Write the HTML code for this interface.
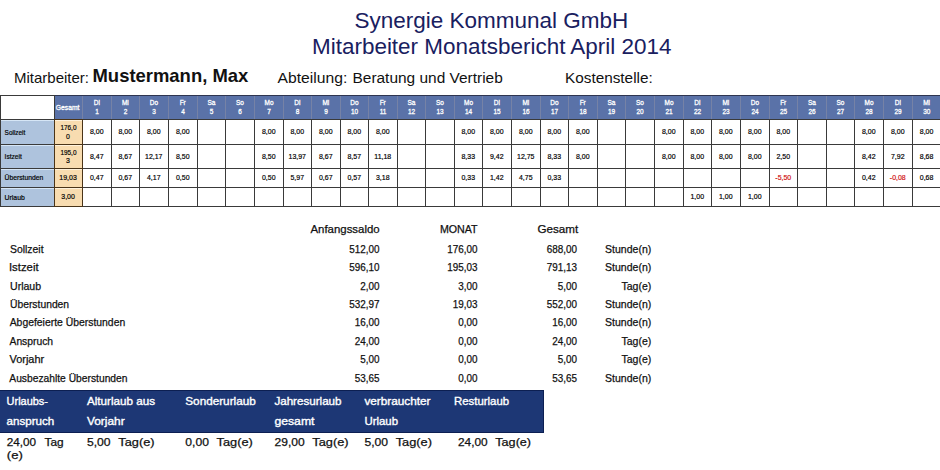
<!DOCTYPE html><html><head><meta charset="utf-8"><style>
html,body{margin:0;padding:0;background:#fff;width:940px;height:470px;overflow:hidden;position:relative}
div{position:absolute}
svg{position:absolute;left:0;top:0}
text{font-family:"Liberation Sans",sans-serif;white-space:pre}
</style></head><body>
<div style="left:0px;top:95px;width:940px;height:112px;background:#3a3a3a"></div>
<div style="left:55px;top:96px;width:885px;height:23px;background:#7682a6"></div>
<div style="left:55px;top:95px;width:885px;height:1px;background:#2e3550"></div>
<div style="left:1px;top:96px;width:53px;height:23px;background:#fff"></div>
<div style="left:55px;top:96px;width:27px;height:23px;background:#5a72a8"></div>
<div style="left:83px;top:96px;width:28px;height:23px;background:#5a72a8"></div>
<div style="left:112px;top:96px;width:27px;height:23px;background:#5a72a8"></div>
<div style="left:140px;top:96px;width:28px;height:23px;background:#5a72a8"></div>
<div style="left:169px;top:96px;width:28px;height:23px;background:#5a72a8"></div>
<div style="left:198px;top:96px;width:27px;height:23px;background:#5a72a8"></div>
<div style="left:226px;top:96px;width:28px;height:23px;background:#5a72a8"></div>
<div style="left:255px;top:96px;width:28px;height:23px;background:#5a72a8"></div>
<div style="left:284px;top:96px;width:27px;height:23px;background:#5a72a8"></div>
<div style="left:312px;top:96px;width:28px;height:23px;background:#5a72a8"></div>
<div style="left:341px;top:96px;width:27px;height:23px;background:#5a72a8"></div>
<div style="left:369px;top:96px;width:28px;height:23px;background:#5a72a8"></div>
<div style="left:398px;top:96px;width:27px;height:23px;background:#5a72a8"></div>
<div style="left:426px;top:96px;width:28px;height:23px;background:#5a72a8"></div>
<div style="left:455px;top:96px;width:27px;height:23px;background:#5a72a8"></div>
<div style="left:483px;top:96px;width:28px;height:23px;background:#5a72a8"></div>
<div style="left:512px;top:96px;width:28px;height:23px;background:#5a72a8"></div>
<div style="left:541px;top:96px;width:27px;height:23px;background:#5a72a8"></div>
<div style="left:569px;top:96px;width:28px;height:23px;background:#5a72a8"></div>
<div style="left:598px;top:96px;width:27px;height:23px;background:#5a72a8"></div>
<div style="left:626px;top:96px;width:28px;height:23px;background:#5a72a8"></div>
<div style="left:655px;top:96px;width:28px;height:23px;background:#5a72a8"></div>
<div style="left:684px;top:96px;width:27px;height:23px;background:#5a72a8"></div>
<div style="left:712px;top:96px;width:28px;height:23px;background:#5a72a8"></div>
<div style="left:741px;top:96px;width:28px;height:23px;background:#5a72a8"></div>
<div style="left:770px;top:96px;width:27px;height:23px;background:#5a72a8"></div>
<div style="left:798px;top:96px;width:28px;height:23px;background:#5a72a8"></div>
<div style="left:827px;top:96px;width:27px;height:23px;background:#5a72a8"></div>
<div style="left:855px;top:96px;width:28px;height:23px;background:#5a72a8"></div>
<div style="left:884px;top:96px;width:28px;height:23px;background:#5a72a8"></div>
<div style="left:913px;top:96px;width:27px;height:23px;background:#5a72a8"></div>
<div style="left:54px;top:119px;width:29px;height:88px;background:#4a3418"></div>
<div style="left:1px;top:120px;width:53px;height:24px;background:#aec3dd"></div>
<div style="left:1px;top:120px;width:53px;height:1px;background:#d6e6f6"></div>
<div style="left:55px;top:120px;width:27px;height:24px;background:#f8dcb0"></div>
<div style="left:55px;top:120px;width:27px;height:1px;background:#fff2dc"></div>
<div style="left:83px;top:120px;width:28px;height:24px;background:#fff"></div>
<div style="left:112px;top:120px;width:27px;height:24px;background:#fff"></div>
<div style="left:140px;top:120px;width:28px;height:24px;background:#fff"></div>
<div style="left:169px;top:120px;width:28px;height:24px;background:#fff"></div>
<div style="left:198px;top:120px;width:27px;height:24px;background:#fff"></div>
<div style="left:226px;top:120px;width:28px;height:24px;background:#fff"></div>
<div style="left:255px;top:120px;width:28px;height:24px;background:#fff"></div>
<div style="left:284px;top:120px;width:27px;height:24px;background:#fff"></div>
<div style="left:312px;top:120px;width:28px;height:24px;background:#fff"></div>
<div style="left:341px;top:120px;width:27px;height:24px;background:#fff"></div>
<div style="left:369px;top:120px;width:28px;height:24px;background:#fff"></div>
<div style="left:398px;top:120px;width:27px;height:24px;background:#fff"></div>
<div style="left:426px;top:120px;width:28px;height:24px;background:#fff"></div>
<div style="left:455px;top:120px;width:27px;height:24px;background:#fff"></div>
<div style="left:483px;top:120px;width:28px;height:24px;background:#fff"></div>
<div style="left:512px;top:120px;width:28px;height:24px;background:#fff"></div>
<div style="left:541px;top:120px;width:27px;height:24px;background:#fff"></div>
<div style="left:569px;top:120px;width:28px;height:24px;background:#fff"></div>
<div style="left:598px;top:120px;width:27px;height:24px;background:#fff"></div>
<div style="left:626px;top:120px;width:28px;height:24px;background:#fff"></div>
<div style="left:655px;top:120px;width:28px;height:24px;background:#fff"></div>
<div style="left:684px;top:120px;width:27px;height:24px;background:#fff"></div>
<div style="left:712px;top:120px;width:28px;height:24px;background:#fff"></div>
<div style="left:741px;top:120px;width:28px;height:24px;background:#fff"></div>
<div style="left:770px;top:120px;width:27px;height:24px;background:#fff"></div>
<div style="left:798px;top:120px;width:28px;height:24px;background:#fff"></div>
<div style="left:827px;top:120px;width:27px;height:24px;background:#fff"></div>
<div style="left:855px;top:120px;width:28px;height:24px;background:#fff"></div>
<div style="left:884px;top:120px;width:28px;height:24px;background:#fff"></div>
<div style="left:913px;top:120px;width:27px;height:24px;background:#fff"></div>
<div style="left:1px;top:145px;width:53px;height:23px;background:#aec3dd"></div>
<div style="left:1px;top:145px;width:53px;height:1px;background:#d6e6f6"></div>
<div style="left:55px;top:145px;width:27px;height:23px;background:#f8dcb0"></div>
<div style="left:55px;top:145px;width:27px;height:1px;background:#fff2dc"></div>
<div style="left:83px;top:145px;width:28px;height:23px;background:#fff"></div>
<div style="left:112px;top:145px;width:27px;height:23px;background:#fff"></div>
<div style="left:140px;top:145px;width:28px;height:23px;background:#fff"></div>
<div style="left:169px;top:145px;width:28px;height:23px;background:#fff"></div>
<div style="left:198px;top:145px;width:27px;height:23px;background:#fff"></div>
<div style="left:226px;top:145px;width:28px;height:23px;background:#fff"></div>
<div style="left:255px;top:145px;width:28px;height:23px;background:#fff"></div>
<div style="left:284px;top:145px;width:27px;height:23px;background:#fff"></div>
<div style="left:312px;top:145px;width:28px;height:23px;background:#fff"></div>
<div style="left:341px;top:145px;width:27px;height:23px;background:#fff"></div>
<div style="left:369px;top:145px;width:28px;height:23px;background:#fff"></div>
<div style="left:398px;top:145px;width:27px;height:23px;background:#fff"></div>
<div style="left:426px;top:145px;width:28px;height:23px;background:#fff"></div>
<div style="left:455px;top:145px;width:27px;height:23px;background:#fff"></div>
<div style="left:483px;top:145px;width:28px;height:23px;background:#fff"></div>
<div style="left:512px;top:145px;width:28px;height:23px;background:#fff"></div>
<div style="left:541px;top:145px;width:27px;height:23px;background:#fff"></div>
<div style="left:569px;top:145px;width:28px;height:23px;background:#fff"></div>
<div style="left:598px;top:145px;width:27px;height:23px;background:#fff"></div>
<div style="left:626px;top:145px;width:28px;height:23px;background:#fff"></div>
<div style="left:655px;top:145px;width:28px;height:23px;background:#fff"></div>
<div style="left:684px;top:145px;width:27px;height:23px;background:#fff"></div>
<div style="left:712px;top:145px;width:28px;height:23px;background:#fff"></div>
<div style="left:741px;top:145px;width:28px;height:23px;background:#fff"></div>
<div style="left:770px;top:145px;width:27px;height:23px;background:#fff"></div>
<div style="left:798px;top:145px;width:28px;height:23px;background:#fff"></div>
<div style="left:827px;top:145px;width:27px;height:23px;background:#fff"></div>
<div style="left:855px;top:145px;width:28px;height:23px;background:#fff"></div>
<div style="left:884px;top:145px;width:28px;height:23px;background:#fff"></div>
<div style="left:913px;top:145px;width:27px;height:23px;background:#fff"></div>
<div style="left:1px;top:169px;width:53px;height:18px;background:#aec3dd"></div>
<div style="left:1px;top:169px;width:53px;height:1px;background:#d6e6f6"></div>
<div style="left:55px;top:169px;width:27px;height:18px;background:#f8dcb0"></div>
<div style="left:55px;top:169px;width:27px;height:1px;background:#fff2dc"></div>
<div style="left:83px;top:169px;width:28px;height:18px;background:#fff"></div>
<div style="left:112px;top:169px;width:27px;height:18px;background:#fff"></div>
<div style="left:140px;top:169px;width:28px;height:18px;background:#fff"></div>
<div style="left:169px;top:169px;width:28px;height:18px;background:#fff"></div>
<div style="left:198px;top:169px;width:27px;height:18px;background:#fff"></div>
<div style="left:226px;top:169px;width:28px;height:18px;background:#fff"></div>
<div style="left:255px;top:169px;width:28px;height:18px;background:#fff"></div>
<div style="left:284px;top:169px;width:27px;height:18px;background:#fff"></div>
<div style="left:312px;top:169px;width:28px;height:18px;background:#fff"></div>
<div style="left:341px;top:169px;width:27px;height:18px;background:#fff"></div>
<div style="left:369px;top:169px;width:28px;height:18px;background:#fff"></div>
<div style="left:398px;top:169px;width:27px;height:18px;background:#fff"></div>
<div style="left:426px;top:169px;width:28px;height:18px;background:#fff"></div>
<div style="left:455px;top:169px;width:27px;height:18px;background:#fff"></div>
<div style="left:483px;top:169px;width:28px;height:18px;background:#fff"></div>
<div style="left:512px;top:169px;width:28px;height:18px;background:#fff"></div>
<div style="left:541px;top:169px;width:27px;height:18px;background:#fff"></div>
<div style="left:569px;top:169px;width:28px;height:18px;background:#fff"></div>
<div style="left:598px;top:169px;width:27px;height:18px;background:#fff"></div>
<div style="left:626px;top:169px;width:28px;height:18px;background:#fff"></div>
<div style="left:655px;top:169px;width:28px;height:18px;background:#fff"></div>
<div style="left:684px;top:169px;width:27px;height:18px;background:#fff"></div>
<div style="left:712px;top:169px;width:28px;height:18px;background:#fff"></div>
<div style="left:741px;top:169px;width:28px;height:18px;background:#fff"></div>
<div style="left:770px;top:169px;width:27px;height:18px;background:#fff"></div>
<div style="left:798px;top:169px;width:28px;height:18px;background:#fff"></div>
<div style="left:827px;top:169px;width:27px;height:18px;background:#fff"></div>
<div style="left:855px;top:169px;width:28px;height:18px;background:#fff"></div>
<div style="left:884px;top:169px;width:28px;height:18px;background:#fff"></div>
<div style="left:913px;top:169px;width:27px;height:18px;background:#fff"></div>
<div style="left:1px;top:188px;width:53px;height:18px;background:#aec3dd"></div>
<div style="left:1px;top:188px;width:53px;height:1px;background:#d6e6f6"></div>
<div style="left:55px;top:188px;width:27px;height:18px;background:#f8dcb0"></div>
<div style="left:55px;top:188px;width:27px;height:1px;background:#fff2dc"></div>
<div style="left:83px;top:188px;width:28px;height:18px;background:#fff"></div>
<div style="left:112px;top:188px;width:27px;height:18px;background:#fff"></div>
<div style="left:140px;top:188px;width:28px;height:18px;background:#fff"></div>
<div style="left:169px;top:188px;width:28px;height:18px;background:#fff"></div>
<div style="left:198px;top:188px;width:27px;height:18px;background:#fff"></div>
<div style="left:226px;top:188px;width:28px;height:18px;background:#fff"></div>
<div style="left:255px;top:188px;width:28px;height:18px;background:#fff"></div>
<div style="left:284px;top:188px;width:27px;height:18px;background:#fff"></div>
<div style="left:312px;top:188px;width:28px;height:18px;background:#fff"></div>
<div style="left:341px;top:188px;width:27px;height:18px;background:#fff"></div>
<div style="left:369px;top:188px;width:28px;height:18px;background:#fff"></div>
<div style="left:398px;top:188px;width:27px;height:18px;background:#fff"></div>
<div style="left:426px;top:188px;width:28px;height:18px;background:#fff"></div>
<div style="left:455px;top:188px;width:27px;height:18px;background:#fff"></div>
<div style="left:483px;top:188px;width:28px;height:18px;background:#fff"></div>
<div style="left:512px;top:188px;width:28px;height:18px;background:#fff"></div>
<div style="left:541px;top:188px;width:27px;height:18px;background:#fff"></div>
<div style="left:569px;top:188px;width:28px;height:18px;background:#fff"></div>
<div style="left:598px;top:188px;width:27px;height:18px;background:#fff"></div>
<div style="left:626px;top:188px;width:28px;height:18px;background:#fff"></div>
<div style="left:655px;top:188px;width:28px;height:18px;background:#fff"></div>
<div style="left:684px;top:188px;width:27px;height:18px;background:#fff"></div>
<div style="left:712px;top:188px;width:28px;height:18px;background:#fff"></div>
<div style="left:741px;top:188px;width:28px;height:18px;background:#fff"></div>
<div style="left:770px;top:188px;width:27px;height:18px;background:#fff"></div>
<div style="left:798px;top:188px;width:28px;height:18px;background:#fff"></div>
<div style="left:827px;top:188px;width:27px;height:18px;background:#fff"></div>
<div style="left:855px;top:188px;width:28px;height:18px;background:#fff"></div>
<div style="left:884px;top:188px;width:28px;height:18px;background:#fff"></div>
<div style="left:913px;top:188px;width:27px;height:18px;background:#fff"></div>
<div style="left:0px;top:389.5px;width:544px;height:43.0px;background:#1d3775"></div>
<div style="left:0px;top:389.5px;width:544px;height:1.5px;background:#0c1f52"></div>
<div style="left:0px;top:431.5px;width:544px;height:1.0px;background:#0c1f52"></div>
<div style="left:543px;top:389.5px;width:1px;height:43.0px;background:#0c1f52"></div>
<svg width="940" height="470">
<text x="354.50" y="27.60" font-size="22.5" fill="#19205f">Synergie Kommunal GmbH</text>
<text x="312.01" y="53.50" font-size="22.5" fill="#19205f" textLength="359.51" lengthAdjust="spacingAndGlyphs">Mitarbeiter Monatsbericht April 2014</text>
<text x="14.00" y="82.60" font-size="15" fill="#111">Mitarbeiter:</text>
<text x="92.50" y="81.60" font-size="18.5" fill="#111" textLength="155.79" lengthAdjust="spacingAndGlyphs" font-weight="bold">Mustermann, Max</text>
<text x="277.50" y="82.80" font-size="15.2" fill="#111" textLength="69.76" lengthAdjust="spacingAndGlyphs">Abteilung:</text>
<text x="352.50" y="82.80" font-size="15.4" fill="#111" textLength="150.27" lengthAdjust="spacingAndGlyphs">Beratung und Vertrieb</text>
<text x="564.99" y="82.80" font-size="15.2" fill="#111" textLength="87.74" lengthAdjust="spacingAndGlyphs">Kostenstelle:</text>
<text x="55.85" y="110.00" font-size="7.2" fill="#fff" textLength="23.50" lengthAdjust="spacingAndGlyphs" stroke="#fff" stroke-width="0.3">Gesamt</text>
<text x="93.76" y="105.00" font-size="7.2" fill="#fff" textLength="6.11" lengthAdjust="spacingAndGlyphs" stroke="#fff" stroke-width="0.3">Di</text>
<text x="95.20" y="114.00" font-size="7.2" fill="#fff" textLength="3.60" lengthAdjust="spacingAndGlyphs" stroke="#fff" stroke-width="0.3">1</text>
<text x="121.91" y="105.00" font-size="7.2" fill="#fff" textLength="6.83" lengthAdjust="spacingAndGlyphs" stroke="#fff" stroke-width="0.3">Mi</text>
<text x="123.70" y="114.00" font-size="7.2" fill="#fff" textLength="3.60" lengthAdjust="spacingAndGlyphs" stroke="#fff" stroke-width="0.3">2</text>
<text x="149.86" y="105.00" font-size="7.2" fill="#fff" textLength="8.27" lengthAdjust="spacingAndGlyphs" stroke="#fff" stroke-width="0.3">Do</text>
<text x="152.20" y="114.00" font-size="7.2" fill="#fff" textLength="3.60" lengthAdjust="spacingAndGlyphs" stroke="#fff" stroke-width="0.3">3</text>
<text x="179.67" y="105.00" font-size="7.2" fill="#fff" textLength="6.11" lengthAdjust="spacingAndGlyphs" stroke="#fff" stroke-width="0.3">Fr</text>
<text x="181.20" y="114.00" font-size="7.2" fill="#fff" textLength="3.60" lengthAdjust="spacingAndGlyphs" stroke="#fff" stroke-width="0.3">4</text>
<text x="207.54" y="105.00" font-size="7.2" fill="#fff" textLength="7.91" lengthAdjust="spacingAndGlyphs" stroke="#fff" stroke-width="0.3">Sa</text>
<text x="209.70" y="114.00" font-size="7.2" fill="#fff" textLength="3.60" lengthAdjust="spacingAndGlyphs" stroke="#fff" stroke-width="0.3">5</text>
<text x="236.04" y="105.00" font-size="7.2" fill="#fff" textLength="7.91" lengthAdjust="spacingAndGlyphs" stroke="#fff" stroke-width="0.3">So</text>
<text x="238.20" y="114.00" font-size="7.2" fill="#fff" textLength="3.60" lengthAdjust="spacingAndGlyphs" stroke="#fff" stroke-width="0.3">6</text>
<text x="264.51" y="105.00" font-size="7.2" fill="#fff" textLength="8.99" lengthAdjust="spacingAndGlyphs" stroke="#fff" stroke-width="0.3">Mo</text>
<text x="267.20" y="114.00" font-size="7.2" fill="#fff" textLength="3.60" lengthAdjust="spacingAndGlyphs" stroke="#fff" stroke-width="0.3">7</text>
<text x="294.26" y="105.00" font-size="7.2" fill="#fff" textLength="6.11" lengthAdjust="spacingAndGlyphs" stroke="#fff" stroke-width="0.3">Di</text>
<text x="295.70" y="114.00" font-size="7.2" fill="#fff" textLength="3.60" lengthAdjust="spacingAndGlyphs" stroke="#fff" stroke-width="0.3">8</text>
<text x="322.41" y="105.00" font-size="7.2" fill="#fff" textLength="6.83" lengthAdjust="spacingAndGlyphs" stroke="#fff" stroke-width="0.3">Mi</text>
<text x="324.20" y="114.00" font-size="7.2" fill="#fff" textLength="3.60" lengthAdjust="spacingAndGlyphs" stroke="#fff" stroke-width="0.3">9</text>
<text x="350.36" y="105.00" font-size="7.2" fill="#fff" textLength="8.27" lengthAdjust="spacingAndGlyphs" stroke="#fff" stroke-width="0.3">Do</text>
<text x="350.90" y="114.00" font-size="7.2" fill="#fff" textLength="7.20" lengthAdjust="spacingAndGlyphs" stroke="#fff" stroke-width="0.3">10</text>
<text x="379.67" y="105.00" font-size="7.2" fill="#fff" textLength="6.11" lengthAdjust="spacingAndGlyphs" stroke="#fff" stroke-width="0.3">Fr</text>
<text x="379.64" y="114.00" font-size="7.2" fill="#fff" textLength="6.71" lengthAdjust="spacingAndGlyphs" stroke="#fff" stroke-width="0.3">11</text>
<text x="407.54" y="105.00" font-size="7.2" fill="#fff" textLength="7.91" lengthAdjust="spacingAndGlyphs" stroke="#fff" stroke-width="0.3">Sa</text>
<text x="407.90" y="114.00" font-size="7.2" fill="#fff" textLength="7.20" lengthAdjust="spacingAndGlyphs" stroke="#fff" stroke-width="0.3">12</text>
<text x="436.04" y="105.00" font-size="7.2" fill="#fff" textLength="7.91" lengthAdjust="spacingAndGlyphs" stroke="#fff" stroke-width="0.3">So</text>
<text x="436.40" y="114.00" font-size="7.2" fill="#fff" textLength="7.20" lengthAdjust="spacingAndGlyphs" stroke="#fff" stroke-width="0.3">13</text>
<text x="464.01" y="105.00" font-size="7.2" fill="#fff" textLength="8.99" lengthAdjust="spacingAndGlyphs" stroke="#fff" stroke-width="0.3">Mo</text>
<text x="464.90" y="114.00" font-size="7.2" fill="#fff" textLength="7.20" lengthAdjust="spacingAndGlyphs" stroke="#fff" stroke-width="0.3">14</text>
<text x="493.76" y="105.00" font-size="7.2" fill="#fff" textLength="6.11" lengthAdjust="spacingAndGlyphs" stroke="#fff" stroke-width="0.3">Di</text>
<text x="493.40" y="114.00" font-size="7.2" fill="#fff" textLength="7.20" lengthAdjust="spacingAndGlyphs" stroke="#fff" stroke-width="0.3">15</text>
<text x="522.41" y="105.00" font-size="7.2" fill="#fff" textLength="6.83" lengthAdjust="spacingAndGlyphs" stroke="#fff" stroke-width="0.3">Mi</text>
<text x="522.40" y="114.00" font-size="7.2" fill="#fff" textLength="7.20" lengthAdjust="spacingAndGlyphs" stroke="#fff" stroke-width="0.3">16</text>
<text x="550.36" y="105.00" font-size="7.2" fill="#fff" textLength="8.27" lengthAdjust="spacingAndGlyphs" stroke="#fff" stroke-width="0.3">Do</text>
<text x="550.90" y="114.00" font-size="7.2" fill="#fff" textLength="7.20" lengthAdjust="spacingAndGlyphs" stroke="#fff" stroke-width="0.3">17</text>
<text x="579.67" y="105.00" font-size="7.2" fill="#fff" textLength="6.11" lengthAdjust="spacingAndGlyphs" stroke="#fff" stroke-width="0.3">Fr</text>
<text x="579.40" y="114.00" font-size="7.2" fill="#fff" textLength="7.20" lengthAdjust="spacingAndGlyphs" stroke="#fff" stroke-width="0.3">18</text>
<text x="607.54" y="105.00" font-size="7.2" fill="#fff" textLength="7.91" lengthAdjust="spacingAndGlyphs" stroke="#fff" stroke-width="0.3">Sa</text>
<text x="607.90" y="114.00" font-size="7.2" fill="#fff" textLength="7.20" lengthAdjust="spacingAndGlyphs" stroke="#fff" stroke-width="0.3">19</text>
<text x="636.04" y="105.00" font-size="7.2" fill="#fff" textLength="7.91" lengthAdjust="spacingAndGlyphs" stroke="#fff" stroke-width="0.3">So</text>
<text x="636.40" y="114.00" font-size="7.2" fill="#fff" textLength="7.20" lengthAdjust="spacingAndGlyphs" stroke="#fff" stroke-width="0.3">20</text>
<text x="664.51" y="105.00" font-size="7.2" fill="#fff" textLength="8.99" lengthAdjust="spacingAndGlyphs" stroke="#fff" stroke-width="0.3">Mo</text>
<text x="665.40" y="114.00" font-size="7.2" fill="#fff" textLength="7.20" lengthAdjust="spacingAndGlyphs" stroke="#fff" stroke-width="0.3">21</text>
<text x="694.26" y="105.00" font-size="7.2" fill="#fff" textLength="6.11" lengthAdjust="spacingAndGlyphs" stroke="#fff" stroke-width="0.3">Di</text>
<text x="693.90" y="114.00" font-size="7.2" fill="#fff" textLength="7.20" lengthAdjust="spacingAndGlyphs" stroke="#fff" stroke-width="0.3">22</text>
<text x="722.41" y="105.00" font-size="7.2" fill="#fff" textLength="6.83" lengthAdjust="spacingAndGlyphs" stroke="#fff" stroke-width="0.3">Mi</text>
<text x="722.40" y="114.00" font-size="7.2" fill="#fff" textLength="7.20" lengthAdjust="spacingAndGlyphs" stroke="#fff" stroke-width="0.3">23</text>
<text x="750.86" y="105.00" font-size="7.2" fill="#fff" textLength="8.27" lengthAdjust="spacingAndGlyphs" stroke="#fff" stroke-width="0.3">Do</text>
<text x="751.40" y="114.00" font-size="7.2" fill="#fff" textLength="7.20" lengthAdjust="spacingAndGlyphs" stroke="#fff" stroke-width="0.3">24</text>
<text x="780.17" y="105.00" font-size="7.2" fill="#fff" textLength="6.11" lengthAdjust="spacingAndGlyphs" stroke="#fff" stroke-width="0.3">Fr</text>
<text x="779.90" y="114.00" font-size="7.2" fill="#fff" textLength="7.20" lengthAdjust="spacingAndGlyphs" stroke="#fff" stroke-width="0.3">25</text>
<text x="808.04" y="105.00" font-size="7.2" fill="#fff" textLength="7.91" lengthAdjust="spacingAndGlyphs" stroke="#fff" stroke-width="0.3">Sa</text>
<text x="808.40" y="114.00" font-size="7.2" fill="#fff" textLength="7.20" lengthAdjust="spacingAndGlyphs" stroke="#fff" stroke-width="0.3">26</text>
<text x="836.54" y="105.00" font-size="7.2" fill="#fff" textLength="7.91" lengthAdjust="spacingAndGlyphs" stroke="#fff" stroke-width="0.3">So</text>
<text x="836.90" y="114.00" font-size="7.2" fill="#fff" textLength="7.20" lengthAdjust="spacingAndGlyphs" stroke="#fff" stroke-width="0.3">27</text>
<text x="864.51" y="105.00" font-size="7.2" fill="#fff" textLength="8.99" lengthAdjust="spacingAndGlyphs" stroke="#fff" stroke-width="0.3">Mo</text>
<text x="865.40" y="114.00" font-size="7.2" fill="#fff" textLength="7.20" lengthAdjust="spacingAndGlyphs" stroke="#fff" stroke-width="0.3">28</text>
<text x="894.76" y="105.00" font-size="7.2" fill="#fff" textLength="6.11" lengthAdjust="spacingAndGlyphs" stroke="#fff" stroke-width="0.3">Di</text>
<text x="894.40" y="114.00" font-size="7.2" fill="#fff" textLength="7.20" lengthAdjust="spacingAndGlyphs" stroke="#fff" stroke-width="0.3">29</text>
<text x="923.22" y="105.00" font-size="7.2" fill="#fff" textLength="6.83" lengthAdjust="spacingAndGlyphs" stroke="#fff" stroke-width="0.3">Mi</text>
<text x="923.21" y="114.00" font-size="7.2" fill="#fff" textLength="7.20" lengthAdjust="spacingAndGlyphs" stroke="#fff" stroke-width="0.3">30</text>
<text x="4.60" y="135.00" font-size="7.6" fill="#000" textLength="20.75" lengthAdjust="spacingAndGlyphs" stroke="#000" stroke-width="0.2">Sollzeit</text>
<text x="4.60" y="159.00" font-size="7.6" fill="#000" textLength="17.23" lengthAdjust="spacingAndGlyphs" stroke="#000" stroke-width="0.2">Istzeit</text>
<text x="4.60" y="180.00" font-size="7.6" fill="#000" textLength="38.70" lengthAdjust="spacingAndGlyphs" stroke="#000" stroke-width="0.2">Überstunden</text>
<text x="4.60" y="200.00" font-size="7.6" fill="#000" textLength="20.20" lengthAdjust="spacingAndGlyphs" stroke="#000" stroke-width="0.2">Urlaub</text>
<text x="60.40" y="130.00" font-size="8" fill="#000" textLength="16.06" lengthAdjust="spacingAndGlyphs" stroke="#000" stroke-width="0.2">176,0</text>
<text x="65.92" y="139.00" font-size="8" fill="#000" textLength="3.87" lengthAdjust="spacingAndGlyphs" stroke="#000" stroke-width="0.2">0</text>
<text x="60.40" y="155.00" font-size="8" fill="#000" textLength="16.06" lengthAdjust="spacingAndGlyphs" stroke="#000" stroke-width="0.2">195,0</text>
<text x="65.92" y="163.00" font-size="8" fill="#000" textLength="3.87" lengthAdjust="spacingAndGlyphs" stroke="#000" stroke-width="0.2">3</text>
<text x="59.35" y="180.00" font-size="8" fill="#000" textLength="17.42" lengthAdjust="spacingAndGlyphs" stroke="#000" stroke-width="0.2">19,03</text>
<text x="61.29" y="199.00" font-size="8" fill="#000" textLength="13.55" lengthAdjust="spacingAndGlyphs" stroke="#000" stroke-width="0.2">3,00</text>
<text x="89.99" y="134.00" font-size="8" fill="#000" textLength="13.55" lengthAdjust="spacingAndGlyphs" stroke="#000" stroke-width="0.2">8,00</text>
<text x="118.49" y="134.00" font-size="8" fill="#000" textLength="13.55" lengthAdjust="spacingAndGlyphs" stroke="#000" stroke-width="0.2">8,00</text>
<text x="146.99" y="134.00" font-size="8" fill="#000" textLength="13.55" lengthAdjust="spacingAndGlyphs" stroke="#000" stroke-width="0.2">8,00</text>
<text x="175.99" y="134.00" font-size="8" fill="#000" textLength="13.55" lengthAdjust="spacingAndGlyphs" stroke="#000" stroke-width="0.2">8,00</text>
<text x="261.99" y="134.00" font-size="8" fill="#000" textLength="13.55" lengthAdjust="spacingAndGlyphs" stroke="#000" stroke-width="0.2">8,00</text>
<text x="290.49" y="134.00" font-size="8" fill="#000" textLength="13.55" lengthAdjust="spacingAndGlyphs" stroke="#000" stroke-width="0.2">8,00</text>
<text x="318.99" y="134.00" font-size="8" fill="#000" textLength="13.55" lengthAdjust="spacingAndGlyphs" stroke="#000" stroke-width="0.2">8,00</text>
<text x="347.49" y="134.00" font-size="8" fill="#000" textLength="13.55" lengthAdjust="spacingAndGlyphs" stroke="#000" stroke-width="0.2">8,00</text>
<text x="375.99" y="134.00" font-size="8" fill="#000" textLength="13.55" lengthAdjust="spacingAndGlyphs" stroke="#000" stroke-width="0.2">8,00</text>
<text x="461.49" y="134.00" font-size="8" fill="#000" textLength="13.55" lengthAdjust="spacingAndGlyphs" stroke="#000" stroke-width="0.2">8,00</text>
<text x="489.99" y="134.00" font-size="8" fill="#000" textLength="13.55" lengthAdjust="spacingAndGlyphs" stroke="#000" stroke-width="0.2">8,00</text>
<text x="518.99" y="134.00" font-size="8" fill="#000" textLength="13.55" lengthAdjust="spacingAndGlyphs" stroke="#000" stroke-width="0.2">8,00</text>
<text x="547.49" y="134.00" font-size="8" fill="#000" textLength="13.55" lengthAdjust="spacingAndGlyphs" stroke="#000" stroke-width="0.2">8,00</text>
<text x="575.99" y="134.00" font-size="8" fill="#000" textLength="13.55" lengthAdjust="spacingAndGlyphs" stroke="#000" stroke-width="0.2">8,00</text>
<text x="661.99" y="134.00" font-size="8" fill="#000" textLength="13.55" lengthAdjust="spacingAndGlyphs" stroke="#000" stroke-width="0.2">8,00</text>
<text x="690.49" y="134.00" font-size="8" fill="#000" textLength="13.55" lengthAdjust="spacingAndGlyphs" stroke="#000" stroke-width="0.2">8,00</text>
<text x="718.99" y="134.00" font-size="8" fill="#000" textLength="13.55" lengthAdjust="spacingAndGlyphs" stroke="#000" stroke-width="0.2">8,00</text>
<text x="747.99" y="134.00" font-size="8" fill="#000" textLength="13.55" lengthAdjust="spacingAndGlyphs" stroke="#000" stroke-width="0.2">8,00</text>
<text x="776.49" y="134.00" font-size="8" fill="#000" textLength="13.55" lengthAdjust="spacingAndGlyphs" stroke="#000" stroke-width="0.2">8,00</text>
<text x="861.99" y="134.00" font-size="8" fill="#000" textLength="13.55" lengthAdjust="spacingAndGlyphs" stroke="#000" stroke-width="0.2">8,00</text>
<text x="890.99" y="134.00" font-size="8" fill="#000" textLength="13.55" lengthAdjust="spacingAndGlyphs" stroke="#000" stroke-width="0.2">8,00</text>
<text x="919.80" y="134.00" font-size="8" fill="#000" textLength="13.55" lengthAdjust="spacingAndGlyphs" stroke="#000" stroke-width="0.2">8,00</text>
<text x="89.99" y="159.00" font-size="8" fill="#000" textLength="13.55" lengthAdjust="spacingAndGlyphs" stroke="#000" stroke-width="0.2">8,47</text>
<text x="118.49" y="159.00" font-size="8" fill="#000" textLength="13.55" lengthAdjust="spacingAndGlyphs" stroke="#000" stroke-width="0.2">8,67</text>
<text x="145.05" y="159.00" font-size="8" fill="#000" textLength="17.42" lengthAdjust="spacingAndGlyphs" stroke="#000" stroke-width="0.2">12,17</text>
<text x="175.99" y="159.00" font-size="8" fill="#000" textLength="13.55" lengthAdjust="spacingAndGlyphs" stroke="#000" stroke-width="0.2">8,50</text>
<text x="261.99" y="159.00" font-size="8" fill="#000" textLength="13.55" lengthAdjust="spacingAndGlyphs" stroke="#000" stroke-width="0.2">8,50</text>
<text x="288.55" y="159.00" font-size="8" fill="#000" textLength="17.42" lengthAdjust="spacingAndGlyphs" stroke="#000" stroke-width="0.2">13,97</text>
<text x="318.99" y="159.00" font-size="8" fill="#000" textLength="13.55" lengthAdjust="spacingAndGlyphs" stroke="#000" stroke-width="0.2">8,67</text>
<text x="347.49" y="159.00" font-size="8" fill="#000" textLength="13.55" lengthAdjust="spacingAndGlyphs" stroke="#000" stroke-width="0.2">8,57</text>
<text x="374.31" y="159.00" font-size="8" fill="#000" textLength="16.90" lengthAdjust="spacingAndGlyphs" stroke="#000" stroke-width="0.2">11,18</text>
<text x="461.49" y="159.00" font-size="8" fill="#000" textLength="13.55" lengthAdjust="spacingAndGlyphs" stroke="#000" stroke-width="0.2">8,33</text>
<text x="489.99" y="159.00" font-size="8" fill="#000" textLength="13.55" lengthAdjust="spacingAndGlyphs" stroke="#000" stroke-width="0.2">9,42</text>
<text x="517.05" y="159.00" font-size="8" fill="#000" textLength="17.42" lengthAdjust="spacingAndGlyphs" stroke="#000" stroke-width="0.2">12,75</text>
<text x="547.49" y="159.00" font-size="8" fill="#000" textLength="13.55" lengthAdjust="spacingAndGlyphs" stroke="#000" stroke-width="0.2">8,33</text>
<text x="575.99" y="159.00" font-size="8" fill="#000" textLength="13.55" lengthAdjust="spacingAndGlyphs" stroke="#000" stroke-width="0.2">8,00</text>
<text x="661.99" y="159.00" font-size="8" fill="#000" textLength="13.55" lengthAdjust="spacingAndGlyphs" stroke="#000" stroke-width="0.2">8,00</text>
<text x="690.49" y="159.00" font-size="8" fill="#000" textLength="13.55" lengthAdjust="spacingAndGlyphs" stroke="#000" stroke-width="0.2">8,00</text>
<text x="718.99" y="159.00" font-size="8" fill="#000" textLength="13.55" lengthAdjust="spacingAndGlyphs" stroke="#000" stroke-width="0.2">8,00</text>
<text x="747.99" y="159.00" font-size="8" fill="#000" textLength="13.55" lengthAdjust="spacingAndGlyphs" stroke="#000" stroke-width="0.2">8,00</text>
<text x="776.49" y="159.00" font-size="8" fill="#000" textLength="13.55" lengthAdjust="spacingAndGlyphs" stroke="#000" stroke-width="0.2">2,50</text>
<text x="861.99" y="159.00" font-size="8" fill="#000" textLength="13.55" lengthAdjust="spacingAndGlyphs" stroke="#000" stroke-width="0.2">8,42</text>
<text x="890.99" y="159.00" font-size="8" fill="#000" textLength="13.55" lengthAdjust="spacingAndGlyphs" stroke="#000" stroke-width="0.2">7,92</text>
<text x="919.80" y="159.00" font-size="8" fill="#000" textLength="13.55" lengthAdjust="spacingAndGlyphs" stroke="#000" stroke-width="0.2">8,68</text>
<text x="89.99" y="180.00" font-size="8" fill="#000" textLength="13.55" lengthAdjust="spacingAndGlyphs" stroke="#000" stroke-width="0.2">0,47</text>
<text x="118.49" y="180.00" font-size="8" fill="#000" textLength="13.55" lengthAdjust="spacingAndGlyphs" stroke="#000" stroke-width="0.2">0,67</text>
<text x="146.99" y="180.00" font-size="8" fill="#000" textLength="13.55" lengthAdjust="spacingAndGlyphs" stroke="#000" stroke-width="0.2">4,17</text>
<text x="175.99" y="180.00" font-size="8" fill="#000" textLength="13.55" lengthAdjust="spacingAndGlyphs" stroke="#000" stroke-width="0.2">0,50</text>
<text x="261.99" y="180.00" font-size="8" fill="#000" textLength="13.55" lengthAdjust="spacingAndGlyphs" stroke="#000" stroke-width="0.2">0,50</text>
<text x="290.49" y="180.00" font-size="8" fill="#000" textLength="13.55" lengthAdjust="spacingAndGlyphs" stroke="#000" stroke-width="0.2">5,97</text>
<text x="318.99" y="180.00" font-size="8" fill="#000" textLength="13.55" lengthAdjust="spacingAndGlyphs" stroke="#000" stroke-width="0.2">0,67</text>
<text x="347.49" y="180.00" font-size="8" fill="#000" textLength="13.55" lengthAdjust="spacingAndGlyphs" stroke="#000" stroke-width="0.2">0,57</text>
<text x="375.99" y="180.00" font-size="8" fill="#000" textLength="13.55" lengthAdjust="spacingAndGlyphs" stroke="#000" stroke-width="0.2">3,18</text>
<text x="461.49" y="180.00" font-size="8" fill="#000" textLength="13.55" lengthAdjust="spacingAndGlyphs" stroke="#000" stroke-width="0.2">0,33</text>
<text x="489.99" y="180.00" font-size="8" fill="#000" textLength="13.55" lengthAdjust="spacingAndGlyphs" stroke="#000" stroke-width="0.2">1,42</text>
<text x="518.99" y="180.00" font-size="8" fill="#000" textLength="13.55" lengthAdjust="spacingAndGlyphs" stroke="#000" stroke-width="0.2">4,75</text>
<text x="547.49" y="180.00" font-size="8" fill="#000" textLength="13.55" lengthAdjust="spacingAndGlyphs" stroke="#000" stroke-width="0.2">0,33</text>
<text x="775.33" y="180.00" font-size="8" fill="#d01010" textLength="15.86" lengthAdjust="spacingAndGlyphs" stroke="#d01010" stroke-width="0.2">-5,50</text>
<text x="861.99" y="180.00" font-size="8" fill="#000" textLength="13.55" lengthAdjust="spacingAndGlyphs" stroke="#000" stroke-width="0.2">0,42</text>
<text x="889.83" y="180.00" font-size="8" fill="#d01010" textLength="15.86" lengthAdjust="spacingAndGlyphs" stroke="#d01010" stroke-width="0.2">-0,08</text>
<text x="919.80" y="180.00" font-size="8" fill="#000" textLength="13.55" lengthAdjust="spacingAndGlyphs" stroke="#000" stroke-width="0.2">0,68</text>
<text x="690.49" y="199.00" font-size="8" fill="#000" textLength="13.55" lengthAdjust="spacingAndGlyphs" stroke="#000" stroke-width="0.2">1,00</text>
<text x="718.99" y="199.00" font-size="8" fill="#000" textLength="13.55" lengthAdjust="spacingAndGlyphs" stroke="#000" stroke-width="0.2">1,00</text>
<text x="747.99" y="199.00" font-size="8" fill="#000" textLength="13.55" lengthAdjust="spacingAndGlyphs" stroke="#000" stroke-width="0.2">1,00</text>
<text x="310.50" y="233.40" font-size="11" fill="#111" textLength="69.12" lengthAdjust="spacingAndGlyphs" stroke="#111" stroke-width="0.25">Anfangssaldo</text>
<text x="439.90" y="233.40" font-size="11" fill="#111" textLength="37.73" lengthAdjust="spacingAndGlyphs" stroke="#111" stroke-width="0.25">MONAT</text>
<text x="537.50" y="233.40" font-size="11" fill="#111" textLength="40.76" lengthAdjust="spacingAndGlyphs" stroke="#111" stroke-width="0.25">Gesamt</text>
<text x="10.00" y="253.00" font-size="11" fill="#111" textLength="33.55" lengthAdjust="spacingAndGlyphs" stroke="#111" stroke-width="0.25">Sollzeit</text>
<text x="349.23" y="253.00" font-size="11" fill="#111" textLength="30.28" lengthAdjust="spacingAndGlyphs" stroke="#111" stroke-width="0.25">512,00</text>
<text x="447.33" y="253.00" font-size="11" fill="#111" textLength="30.28" lengthAdjust="spacingAndGlyphs" stroke="#111" stroke-width="0.25">176,00</text>
<text x="546.83" y="253.00" font-size="11" fill="#111" textLength="30.28" lengthAdjust="spacingAndGlyphs" stroke="#111" stroke-width="0.25">688,00</text>
<text x="605.10" y="253.00" font-size="11" fill="#111" textLength="46.13" lengthAdjust="spacingAndGlyphs" stroke="#111" stroke-width="0.25">Stunde(n)</text>
<text x="8.97" y="271.36" font-size="11" fill="#111" textLength="29.59" lengthAdjust="spacingAndGlyphs" stroke="#111" stroke-width="0.25">Istzeit</text>
<text x="349.23" y="271.36" font-size="11" fill="#111" textLength="30.28" lengthAdjust="spacingAndGlyphs" stroke="#111" stroke-width="0.25">596,10</text>
<text x="447.33" y="271.36" font-size="11" fill="#111" textLength="30.28" lengthAdjust="spacingAndGlyphs" stroke="#111" stroke-width="0.25">195,03</text>
<text x="546.83" y="271.36" font-size="11" fill="#111" textLength="30.28" lengthAdjust="spacingAndGlyphs" stroke="#111" stroke-width="0.25">791,13</text>
<text x="605.10" y="271.36" font-size="11" fill="#111" textLength="46.13" lengthAdjust="spacingAndGlyphs" stroke="#111" stroke-width="0.25">Stunde(n)</text>
<text x="10.00" y="289.72" font-size="11" fill="#111" textLength="31.11" lengthAdjust="spacingAndGlyphs" stroke="#111" stroke-width="0.25">Urlaub</text>
<text x="360.24" y="289.72" font-size="11" fill="#111" textLength="19.27" lengthAdjust="spacingAndGlyphs" stroke="#111" stroke-width="0.25">2,00</text>
<text x="458.34" y="289.72" font-size="11" fill="#111" textLength="19.27" lengthAdjust="spacingAndGlyphs" stroke="#111" stroke-width="0.25">3,00</text>
<text x="557.84" y="289.72" font-size="11" fill="#111" textLength="19.27" lengthAdjust="spacingAndGlyphs" stroke="#111" stroke-width="0.25">5,00</text>
<text x="621.46" y="289.72" font-size="11" fill="#111" textLength="29.78" lengthAdjust="spacingAndGlyphs" stroke="#111" stroke-width="0.25">Tag(e)</text>
<text x="10.00" y="308.08" font-size="11" fill="#111" textLength="59.11" lengthAdjust="spacingAndGlyphs" stroke="#111" stroke-width="0.25">Überstunden</text>
<text x="349.23" y="308.08" font-size="11" fill="#111" textLength="30.28" lengthAdjust="spacingAndGlyphs" stroke="#111" stroke-width="0.25">532,97</text>
<text x="452.83" y="308.08" font-size="11" fill="#111" textLength="24.77" lengthAdjust="spacingAndGlyphs" stroke="#111" stroke-width="0.25">19,03</text>
<text x="546.83" y="308.08" font-size="11" fill="#111" textLength="30.28" lengthAdjust="spacingAndGlyphs" stroke="#111" stroke-width="0.25">552,00</text>
<text x="605.10" y="308.08" font-size="11" fill="#111" textLength="46.13" lengthAdjust="spacingAndGlyphs" stroke="#111" stroke-width="0.25">Stunde(n)</text>
<text x="9.70" y="326.44" font-size="11" fill="#111" textLength="115.51" lengthAdjust="spacingAndGlyphs" stroke="#111" stroke-width="0.25">Abgefeierte Überstunden</text>
<text x="354.73" y="326.44" font-size="11" fill="#111" textLength="24.77" lengthAdjust="spacingAndGlyphs" stroke="#111" stroke-width="0.25">16,00</text>
<text x="458.34" y="326.44" font-size="11" fill="#111" textLength="19.27" lengthAdjust="spacingAndGlyphs" stroke="#111" stroke-width="0.25">0,00</text>
<text x="552.33" y="326.44" font-size="11" fill="#111" textLength="24.77" lengthAdjust="spacingAndGlyphs" stroke="#111" stroke-width="0.25">16,00</text>
<text x="605.10" y="326.44" font-size="11" fill="#111" textLength="46.13" lengthAdjust="spacingAndGlyphs" stroke="#111" stroke-width="0.25">Stunde(n)</text>
<text x="9.50" y="344.80" font-size="11" fill="#111" textLength="43.61" lengthAdjust="spacingAndGlyphs" stroke="#111" stroke-width="0.25">Anspruch</text>
<text x="354.73" y="344.80" font-size="11" fill="#111" textLength="24.77" lengthAdjust="spacingAndGlyphs" stroke="#111" stroke-width="0.25">24,00</text>
<text x="458.34" y="344.80" font-size="11" fill="#111" textLength="19.27" lengthAdjust="spacingAndGlyphs" stroke="#111" stroke-width="0.25">0,00</text>
<text x="552.33" y="344.80" font-size="11" fill="#111" textLength="24.77" lengthAdjust="spacingAndGlyphs" stroke="#111" stroke-width="0.25">24,00</text>
<text x="621.46" y="344.80" font-size="11" fill="#111" textLength="29.78" lengthAdjust="spacingAndGlyphs" stroke="#111" stroke-width="0.25">Tag(e)</text>
<text x="9.50" y="363.16" font-size="11" fill="#111" textLength="34.66" lengthAdjust="spacingAndGlyphs" stroke="#111" stroke-width="0.25">Vorjahr</text>
<text x="360.24" y="363.16" font-size="11" fill="#111" textLength="19.27" lengthAdjust="spacingAndGlyphs" stroke="#111" stroke-width="0.25">5,00</text>
<text x="458.34" y="363.16" font-size="11" fill="#111" textLength="19.27" lengthAdjust="spacingAndGlyphs" stroke="#111" stroke-width="0.25">0,00</text>
<text x="557.84" y="363.16" font-size="11" fill="#111" textLength="19.27" lengthAdjust="spacingAndGlyphs" stroke="#111" stroke-width="0.25">5,00</text>
<text x="621.46" y="363.16" font-size="11" fill="#111" textLength="29.78" lengthAdjust="spacingAndGlyphs" stroke="#111" stroke-width="0.25">Tag(e)</text>
<text x="9.30" y="381.52" font-size="11" fill="#111" textLength="118.21" lengthAdjust="spacingAndGlyphs" stroke="#111" stroke-width="0.25">Ausbezahlte Überstunden</text>
<text x="354.73" y="381.52" font-size="11" fill="#111" textLength="24.77" lengthAdjust="spacingAndGlyphs" stroke="#111" stroke-width="0.25">53,65</text>
<text x="458.34" y="381.52" font-size="11" fill="#111" textLength="19.27" lengthAdjust="spacingAndGlyphs" stroke="#111" stroke-width="0.25">0,00</text>
<text x="552.33" y="381.52" font-size="11" fill="#111" textLength="24.77" lengthAdjust="spacingAndGlyphs" stroke="#111" stroke-width="0.25">53,65</text>
<text x="605.10" y="381.52" font-size="11" fill="#111" textLength="46.13" lengthAdjust="spacingAndGlyphs" stroke="#111" stroke-width="0.25">Stunde(n)</text>
<text x="6.60" y="404.60" font-size="11" fill="#fff" textLength="41.36" lengthAdjust="spacingAndGlyphs" stroke="#fff" stroke-width="0.35">Urlaubs-</text>
<text x="6.60" y="424.60" font-size="11" fill="#fff" textLength="47.72" lengthAdjust="spacingAndGlyphs" stroke="#fff" stroke-width="0.35">anspruch</text>
<text x="87.00" y="404.60" font-size="11" fill="#fff" textLength="67.97" lengthAdjust="spacingAndGlyphs" stroke="#fff" stroke-width="0.35">Alturlaub aus</text>
<text x="87.00" y="424.60" font-size="11" fill="#fff" textLength="37.64" lengthAdjust="spacingAndGlyphs" stroke="#fff" stroke-width="0.35">Vorjahr</text>
<text x="185.30" y="404.60" font-size="11" fill="#fff" textLength="70.43" lengthAdjust="spacingAndGlyphs" stroke="#fff" stroke-width="0.35">Sonderurlaub</text>
<text x="274.40" y="404.60" font-size="11" fill="#fff" textLength="67.12" lengthAdjust="spacingAndGlyphs" stroke="#fff" stroke-width="0.35">Jahresurlaub</text>
<text x="274.40" y="424.60" font-size="11" fill="#fff" textLength="40.06" lengthAdjust="spacingAndGlyphs" stroke="#fff" stroke-width="0.35">gesamt</text>
<text x="364.40" y="404.60" font-size="11" fill="#fff" textLength="66.04" lengthAdjust="spacingAndGlyphs" stroke="#fff" stroke-width="0.35">verbrauchter</text>
<text x="364.40" y="424.60" font-size="11" fill="#fff" textLength="33.62" lengthAdjust="spacingAndGlyphs" stroke="#fff" stroke-width="0.35">Urlaub</text>
<text x="454.00" y="404.60" font-size="11" fill="#fff" textLength="55.12" lengthAdjust="spacingAndGlyphs" stroke="#fff" stroke-width="0.35">Resturlaub</text>
<text x="6.80" y="446.00" font-size="11" fill="#111" textLength="29.33" lengthAdjust="spacingAndGlyphs" stroke="#111" stroke-width="0.25">24,00</text>
<text x="44.50" y="446.00" font-size="11" fill="#111" textLength="19.13" lengthAdjust="spacingAndGlyphs" stroke="#111" stroke-width="0.25">Tag</text>
<text x="87.00" y="446.00" font-size="11" fill="#111" textLength="23.63" lengthAdjust="spacingAndGlyphs" stroke="#111" stroke-width="0.25">5,00</text>
<text x="118.30" y="446.00" font-size="11" fill="#111" textLength="36.27" lengthAdjust="spacingAndGlyphs" stroke="#111" stroke-width="0.25">Tag(e)</text>
<text x="185.30" y="446.00" font-size="11" fill="#111" textLength="23.63" lengthAdjust="spacingAndGlyphs" stroke="#111" stroke-width="0.25">0,00</text>
<text x="216.60" y="446.00" font-size="11" fill="#111" textLength="36.27" lengthAdjust="spacingAndGlyphs" stroke="#111" stroke-width="0.25">Tag(e)</text>
<text x="274.50" y="446.00" font-size="11" fill="#111" textLength="30.13" lengthAdjust="spacingAndGlyphs" stroke="#111" stroke-width="0.25">29,00</text>
<text x="312.30" y="446.00" font-size="11" fill="#111" textLength="36.27" lengthAdjust="spacingAndGlyphs" stroke="#111" stroke-width="0.25">Tag(e)</text>
<text x="364.40" y="446.00" font-size="11" fill="#111" textLength="23.63" lengthAdjust="spacingAndGlyphs" stroke="#111" stroke-width="0.25">5,00</text>
<text x="395.70" y="446.00" font-size="11" fill="#111" textLength="36.27" lengthAdjust="spacingAndGlyphs" stroke="#111" stroke-width="0.25">Tag(e)</text>
<text x="458.00" y="446.00" font-size="11" fill="#111" textLength="29.63" lengthAdjust="spacingAndGlyphs" stroke="#111" stroke-width="0.25">24,00</text>
<text x="495.30" y="446.00" font-size="11" fill="#111" textLength="35.76" lengthAdjust="spacingAndGlyphs" stroke="#111" stroke-width="0.25">Tag(e)</text>
<text x="6.80" y="458.60" font-size="11" fill="#111" textLength="15.99" lengthAdjust="spacingAndGlyphs" stroke="#111" stroke-width="0.25">(e)</text>
</svg>
</body></html>
